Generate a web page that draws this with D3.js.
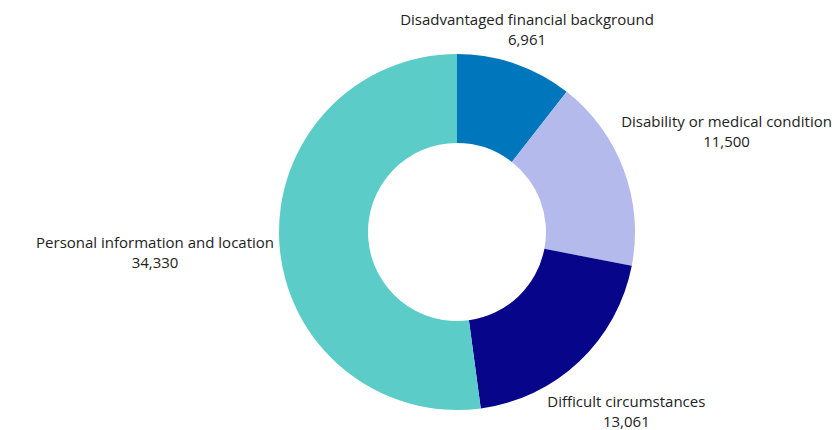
<!DOCTYPE html>
<html>
<head>
<meta charset="utf-8">
<script src="https://cdn.jsdelivr.net/npm/d3@7"></script>
<style>
  body { margin: 0; background: #fff; }
  svg text { font-family: "Open Sans", "Noto Sans", sans-serif; fill: #222; }
</style>
</head>
<body>
<svg id="chart" width="837" height="430"></svg>
<script>
// datos del gráfico
const categories = [
    "Disadvantaged financial background",
    "Disability or medical condition",
    "Difficult circumstances",
    "Personal information and location"
];
const values = [6961, 11500, 13061, 34330];
const colors = ["#0077bd", "#b4baeb", "#07068b", "#5bccc8"];

const width = 837, height = 430;
const cx = 457, cy = 232;
const outerR = 178, innerR = 89;
const labelPad = 5;

const svg = d3.select("#chart");
const g = svg.append("g").attr("transform", `translate(${cx},${cy})`);

const pie = d3.pie().sort(null).value(d => d.value);
const arc = d3.arc().innerRadius(innerR).outerRadius(outerR);

const data = categories.map((c, i) => ({ name: c, value: values[i], color: colors[i] }));
const arcs = pie(data);

g.selectAll("path")
    .data(arcs)
    .join("path")
    .attr("d", arc)
    .attr("fill", d => d.data.color);

const fmt = d3.format(",");

// etiquetas: centradas sobre el rayo del ángulo medio, empujadas hasta no tocar el anillo
const labels = g.selectAll("g.label")
    .data(arcs)
    .join("g")
    .attr("class", "label");

labels.append("text")
    .attr("text-anchor", "middle")
    .style("font-size", "15px")
    .selectAll("tspan")
    .data(d => [d.data.name, fmt(d.data.value)])
    .join("tspan")
    .attr("x", 0)
    .attr("dy", (d, i) => i === 0 ? 0 : 20)
    .text(d => d);

labels.each(function(d) {
    const box = this.getBBox();
    const a = (d.startAngle + d.endAngle) / 2;
    const ux = Math.sin(a), uy = -Math.cos(a);
    // el bloque de texto se centra verticalmente en el punto
    const offY = -(box.y + box.height / 2);
    // distancia mínima del rectángulo al centro del anillo
    const dist = r => {
        const bx0 = r * ux + box.x, bx1 = bx0 + box.width;
        const by0 = r * uy + box.y + offY, by1 = by0 + box.height;
        const nx = Math.max(bx0, Math.min(0, bx1));
        const ny = Math.max(by0, Math.min(0, by1));
        return Math.hypot(nx, ny);
    };
    let lo = 0, hi = 600;
    for (let k = 0; k < 40; k++) {
        const mid = (lo + hi) / 2;
        if (dist(mid) < outerR + labelPad) lo = mid; else hi = mid;
    }
    d3.select(this).attr("transform", `translate(${hi * ux},${hi * uy + offY})`);
});
</script>
</body>
</html>
